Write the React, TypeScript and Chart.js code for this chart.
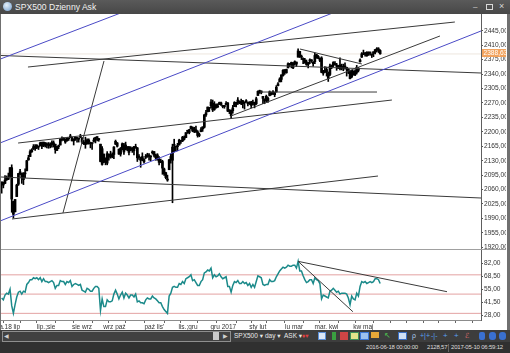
import React, { useEffect, useRef } from "react";
import { Chart, registerables } from "chart.js";

Chart.register(...registerables);

const FONT = "'Liberation Sans', 'DejaVu Sans', Arial, sans-serif";

// ---- Daily candles SPX500 (2016-06-16 .. 2017-05-10), bar index 0..226 ----
const opens = [
  2071,2078,2075,2084,2089,2092,2113,2031,2006,2043,
  2073,2099,2096,2084,2100,2106,2132,2140,2155,2158,
  2165,2162,2163,2166,2173,2166,2173,2168,2170,2166,
  2169,2173,2170,2155,2164,2168,2183,2182,2182,2178,
  2183,2186,2186,2178,2182,2185,2182,2187,2185,2173,
  2175,2171,2180,2174,2171,2177,2181,2186,2183,2170,
  2121,2146,2128,2124,2146,2144,2145,2145,2170,2173,
  2158,2146,2161,2168,2157,2164,2163,2155,2158,2164,
  2161,2161,2138,2131,2140,2133,2138,2140,2142,2139,
  2149,2152,2137,2144,2133,2129,2128,2110,2101,2083,
  2108,2132,2131,2167,2163,2165,2168,2177,2178,2187,
  2186,2201,2198,2207,2210,2201,2205,2200,2191,2200,
  2207,2211,2241,2249,2258,2263,2269,2254,2266,2260,
  2266,2270,2263,2261,2266,2270,2250,2252,2251,2261,
  2269,2271,2274,2269,2268,2271,2273,2270,2269,2272,
  2269,2268,2268,2288,2299,2299,2286,2275,2286,2276,
  2288,2295,2297,2290,2297,2312,2321,2327,2336,2350,
  2343,2355,2363,2368,2355,2366,2369,2381,2395,2381,
  2375,2374,2369,2363,2372,2372,2369,2370,2387,2383,
  2378,2379,2342,2346,2351,2329,2339,2356,2361,2365,
  2362,2354,2362,2354,2357,2358,2354,2352,2344,2333,
  2342,2347,2344,2354,2370,2381,2389,2389,2393,2388,
  2391,2386,2394,2392,2400,2401,2397,
];
const highs = [
  2079,2078,2094,2093,2100,2113,2120,2032,2036,2073,
  2099,2109,2100,2101,2110,2131,2143,2156,2159,2169,
  2169,2169,2165,2175,2175,2175,2174,2173,2174,2173,
  2178,2178,2170,2165,2168,2183,2188,2186,2183,2186,
  2185,2194,2187,2183,2188,2185,2185,2194,2186,2179,
  2187,2183,2183,2175,2174,2185,2187,2188,2184,2170,
  2164,2146,2137,2152,2146,2153,2149,2164,2180,2174,
  2158,2162,2173,2172,2175,2164,2165,2164,2162,2165,
  2170,2162,2145,2138,2149,2135,2145,2148,2147,2142,
  2154,2152,2146,2147,2140,2134,2131,2112,2102,2095,
  2133,2146,2170,2182,2165,2172,2182,2179,2189,2190,
  2198,2204,2206,2214,2212,2211,2214,2203,2197,2210,
  2212,2242,2252,2260,2259,2278,2277,2273,2268,2268,
  2272,2272,2264,2264,2273,2271,2254,2253,2264,2273,
  2271,2283,2275,2279,2276,2272,2278,2272,2273,2274,
  2277,2272,2284,2299,2301,2299,2286,2280,2289,2284,
  2299,2296,2300,2296,2312,2319,2331,2338,2351,2351,
  2352,2367,2366,2369,2368,2372,2369,2401,2395,2386,
  2379,2378,2374,2369,2377,2375,2370,2391,2388,2385,
  2379,2382,2349,2358,2357,2345,2364,2362,2370,2370,
  2366,2361,2379,2364,2364,2367,2356,2353,2349,2349,
  2348,2350,2361,2356,2377,2392,2398,2392,2394,2394,
  2393,2389,2394,2400,2404,2404,2399,
];
const lows = [
  2051,2064,2074,2082,2084,2089,2005,1991,2006,2043,
  2070,2096,2075,2072,2089,2105,2131,2140,2150,2157,
  2155,2159,2157,2166,2159,2164,2163,2161,2160,2161,
  2163,2163,2148,2154,2159,2168,2178,2179,2172,2177,
  2179,2186,2178,2168,2179,2175,2175,2186,2171,2169,
  2160,2170,2170,2161,2157,2175,2173,2178,2177,2127,
  2119,2125,2120,2120,2131,2136,2137,2135,2169,2163,
  2145,2141,2156,2145,2156,2154,2144,2154,2150,2144,
  2160,2128,2133,2114,2130,2124,2135,2138,2131,2130,
  2146,2139,2131,2131,2120,2125,2097,2094,2086,2080,
  2108,2124,2028,2151,2153,2154,2168,2172,2176,2180,
  2186,2196,2195,2207,2200,2198,2199,2187,2188,2200,
  2201,2209,2237,2248,2249,2258,2249,2252,2257,2259,
  2266,2264,2258,2257,2266,2249,2244,2233,2245,2261,
  2260,2266,2268,2266,2258,2255,2271,2263,2266,2258,
  2265,2258,2266,2288,2293,2292,2268,2268,2272,2271,
  2287,2289,2290,2285,2296,2311,2321,2321,2335,2339,
  2342,2355,2358,2355,2353,2362,2358,2381,2380,2375,
  2365,2366,2361,2355,2365,2368,2359,2365,2378,2377,
  2370,2343,2337,2343,2335,2322,2336,2353,2358,2362,
  2349,2353,2350,2350,2348,2352,2335,2341,2328,2331,
  2337,2336,2340,2345,2369,2380,2387,2383,2383,2385,
  2386,2380,2382,2389,2394,2392,2388,
];
const closes = [
  2078,2071,2083,2089,2085,2113,2037,2000,2036,2071,
  2099,2103,2089,2100,2098,2130,2137,2152,2152,2164,
  2162,2167,2164,2173,2165,2175,2168,2169,2167,2170,
  2174,2171,2157,2164,2164,2183,2181,2182,2175,2186,
  2184,2190,2178,2182,2187,2184,2183,2187,2175,2172,
  2169,2180,2176,2171,2171,2180,2186,2186,2181,2128,
  2159,2127,2126,2147,2139,2139,2140,2163,2177,2165,
  2146,2160,2171,2151,2168,2161,2150,2160,2161,2154,
  2164,2137,2139,2133,2133,2127,2140,2144,2141,2141,
  2151,2143,2139,2133,2126,2126,2112,2098,2089,2085,
  2132,2140,2163,2167,2164,2164,2180,2177,2187,2182,
  2198,2203,2205,2213,2202,2205,2199,2191,2192,2205,
  2212,2241,2246,2260,2257,2272,2253,2262,2258,2263,
  2271,2265,2261,2264,2269,2250,2249,2239,2258,2271,
  2269,2277,2269,2269,2275,2270,2275,2268,2272,2264,
  2271,2265,2280,2298,2297,2295,2281,2279,2280,2281,
  2297,2293,2293,2295,2308,2316,2328,2338,2349,2347,
  2351,2365,2363,2364,2367,2370,2364,2396,2382,2383,
  2375,2368,2363,2365,2373,2373,2365,2385,2381,2378,
  2373,2344,2348,2346,2344,2342,2359,2361,2368,2363,
  2359,2360,2353,2357,2356,2357,2354,2345,2329,2349,
  2342,2338,2356,2349,2374,2389,2387,2389,2384,2388,
  2391,2388,2390,2399,2399,2397,2389,
];
const rsi = [
  46,44,49,51,50,55,38,30,39,47,
  52,53,50,53,52,60,62,65,65,67,
  66,67,65,67,63,66,63,63,62,63,
  64,62,56,59,59,64,63,63,60,63,
  62,64,58,60,61,60,59,60,54,53,
  52,56,55,53,53,56,58,58,56,33,
  45,37,37,44,42,42,43,50,54,50,
  45,49,52,46,51,49,46,49,49,47,
  50,42,43,41,41,40,44,46,45,45,
  48,46,45,43,41,41,37,34,32,30,
  48,51,57,58,57,57,61,60,63,61,
  66,67,68,70,64,65,62,59,59,63,
  65,72,73,75,74,77,67,70,68,69,
  71,68,66,67,68,58,58,52,59,63,
  62,64,61,61,63,61,62,59,61,57,
  60,57,63,69,68,67,60,59,60,60,
  65,63,63,64,68,71,74,76,78,77,
  78,80,79,79,80,80,77,84,74,74,
  69,65,62,63,65,65,61,67,65,64,
  61,45,49,48,47,46,53,54,56,54,
  52,53,50,51,51,51,50,46,39,48,
  45,44,51,48,58,63,62,63,61,62,
  63,62,63,66,66,65,61,
];

const currentPrice = 2388.63;
const priceTicks = [1920,1955,1990,2025,2060,2095,2130,2165,2200,2235,2270,2305,2340,2375,2410,2445];
const rsiTicks = [28, 41.5, 55, 68.5, 82];
const rsiLevels = [70, 50, 30];

const xLabelIndex = [11, 32, 54, 74, 97, 117, 140, 158, 180, 201, 222];
const xLabelText = ["a.18 lip", "lip.;sie", "sie wrz", "wrz paź", "paź lis'", "lis.;gru", "gru 2017", "sty lut", "lu mar", "mar. kwi", "kw maj"];
const xMinorIndex = [1, 21, 43, 64, 85, 107, 128, 149, 169, 190, 211, 232, 242, 252, 261, 271, 281];

// trend lines: [barIndex1, value1, barIndex2, value2]
const blueLines = [
  [-0.4, 2376.9, 76.6, 2496.6],
  [-0.4, 2173.8, 202.0, 2494.9],
  [-0.4, 1984.7, 286.2, 2444.3],
];
const blackLines = [
  [-0.4, 2384.9, 286.2, 2342.5],
  [15.7, 2357.0, 270.6, 2466.1],
  [9.8, 2172.8, 233.0, 2277.0],
  [-0.4, 2090.4, 286.2, 2039.5],
  [6.2, 1988.6, 224.7, 2092.8],
  [36.6, 2003.2, 61.1, 2371.6],
  [136.9, 2238.3, 261.7, 2432.2],
  [154.2, 2296.4, 224.1, 2296.4],
  [178.1, 2400.6, 215.1, 2364.3],
];
const rsiLines = [
  [177, 84, 265.9, 52.5],
  [177, 84, 209.7, 31.7],
];

const statusTexts = ["2016-06-18 00:00:00", "2128,57", "2017-05-10 06:59:12"];

const X_MIN = -0.4;
const X_MAX = 286.2;

function fmt(v: number): string {
  return v.toFixed(2).replace(".", ",");
}

export default function App() {
  const ref = useRef<HTMLCanvasElement | null>(null);

  useEffect(() => {
    document.body.style.margin = "0";
    const canvas = ref.current;
    if (!canvas) return;
    const seg = (l: number[]) => [{ x: l[0], y: l[1] }, { x: l[2], y: l[3] }];
    const datasets: any[] = [];

    datasets.push({
      type: "line", data: [{ x: X_MIN, y: currentPrice }, { x: X_MAX, y: currentPrice }],
      borderColor: "#ede6df", borderWidth: 1, pointRadius: 0, yAxisID: "y", order: 10,
    });
    datasets.push({
      type: "bar", data: highs.map((h, i) => ({ x: i, y: [lows[i], h] })),
      backgroundColor: "#000", barThickness: 1, grouped: false, yAxisID: "y", order: 6,
    });
    datasets.push({
      type: "bar", data: opens.map((o, i) => ({ x: i, y: [o, closes[i]] })),
      backgroundColor: "#000", barThickness: 2, grouped: false, minBarLength: 1, yAxisID: "y", order: 5,
    });
    blueLines.forEach((l) =>
      datasets.push({ type: "line", data: seg(l), borderColor: "#4a4ac6", borderWidth: 1, pointRadius: 0, yAxisID: "y", order: 1 })
    );
    blackLines.forEach((l) =>
      datasets.push({ type: "line", data: seg(l), borderColor: "#3a3a3a", borderWidth: 1, pointRadius: 0, yAxisID: "y", order: 1 })
    );
    rsiLevels.forEach((lv) =>
      datasets.push({
        type: "line", data: [{ x: X_MIN, y: lv }, { x: X_MAX, y: lv }],
        borderColor: "#e3a2a2", borderWidth: 1, pointRadius: 0, yAxisID: "rsi", order: 8,
      })
    );
    datasets.push({
      type: "line", data: rsi.map((v, i) => ({ x: i, y: v })),
      borderColor: "#1b8a8a", borderWidth: 1.5, pointRadius: 0, tension: 0, yAxisID: "rsi", order: 3,
    });
    rsiLines.forEach((l) =>
      datasets.push({ type: "line", data: seg(l), borderColor: "#3a3a3a", borderWidth: 1, pointRadius: 0, yAxisID: "rsi", order: 1 })
    );

    const labelMap = new Map<number, string>();
    xLabelIndex.forEach((v, i) => labelMap.set(v, xLabelText[i]));
    const xTicks = [...xLabelIndex, ...xMinorIndex].sort((a, b) => a - b);

    const overlay = {
      id: "overlay",
      afterDraw(chart: any) {
        const ctx = chart.ctx;
        const py = chart.scales.y;
        ctx.save();
        const sy = Math.round(py.bottom) - 0.5;
        ctx.strokeStyle = "#a0a0a0";
        ctx.lineWidth = 1;
        ctx.beginPath();
        ctx.moveTo(0, sy);
        ctx.lineTo(chart.width, sy);
        ctx.stroke();
        const cy = py.getPixelForValue(currentPrice);
        ctx.fillStyle = "#f2a35e";
        ctx.fillRect(py.left + 1, Math.round(cy - 4.5), chart.width - py.left - 1, 8);
        ctx.fillStyle = "#ffffff";
        ctx.font = `6.6px ${FONT}`;
        ctx.textBaseline = "middle";
        ctx.textAlign = "left";
        ctx.fillText(fmt(currentPrice), py.left + 2.5, Math.round(cy - 4.5) + 4);
        ctx.restore();
      },
    };

    const yCommon = {
      type: "linear",
      position: "right",
      stack: "panes",
      grid: { drawOnChartArea: false, drawTicks: true, tickLength: 2, color: "#555" },
      border: { display: true, color: "#5e5e5e" },
    };

    const chart = new Chart(canvas, {
      type: "bar",
      data: { datasets },
      plugins: [overlay],
      options: {
        animation: false,
        responsive: false,
        devicePixelRatio: 1,
        events: [],
        layout: { padding: 0 },
        plugins: { legend: { display: false }, tooltip: { enabled: false } },
        scales: {
          x: {
            type: "linear",
            min: X_MIN,
            max: X_MAX,
            offset: false,
            position: "bottom",
            afterBuildTicks: (s: any) => {
              s.ticks = xTicks.map((v) => ({ value: v }));
            },
            afterFit: (s: any) => {
              s.height = 10;
              s.paddingLeft = 0;
              s.paddingRight = 0;
            },
            ticks: {
              autoSkip: false, maxRotation: 0, minRotation: 0, align: "end", padding: 0,
              color: "#333", font: { family: FONT, size: 6.5 },
              callback: (v: any) => labelMap.get(Number(v)) ?? "",
            },
            grid: { drawOnChartArea: false, drawTicks: true, tickLength: 3, color: "#666", offset: false },
            border: { display: true, color: "#8c8c8c" },
          },
          y: {
            ...yCommon,
            stackWeight: 236,
            min: 1913.5,
            max: 2485.5,
            afterBuildTicks: (s: any) => {
              s.ticks = priceTicks.map((v) => ({ value: v }));
            },
            afterFit: (s: any) => {
              s.width = 25;
              s.paddingTop = 0;
              s.paddingBottom = 0;
            },
            ticks: { autoSkip: false, padding: 1, color: "#333", font: { family: FONT, size: 6.6 }, callback: (v: any) => fmt(Number(v)) },
          },
          rsi: {
            ...yCommon,
            stackWeight: 70,
            min: 23.1,
            max: 95.8,
            afterBuildTicks: (s: any) => {
              s.ticks = rsiTicks.map((v) => ({ value: v }));
            },
            afterFit: (s: any) => {
              s.width = 25;
              s.paddingTop = 0;
              s.paddingBottom = 0;
            },
            ticks: { autoSkip: false, padding: 1, color: "#333", font: { family: FONT, size: 6.6 }, callback: (v: any) => fmt(Number(v)) },
          },
        },
      } as any,
    } as any);
    return () => chart.destroy();
  }, []);

  const icon = (left: number, style: React.CSSProperties, content?: string) => (
    <div style={{ position: "absolute", left, top: 2, width: 8, height: 8, ...style }}>{content}</div>
  );
  const txt: React.CSSProperties = { position: "absolute", top: 0, fontSize: 6.5, lineHeight: "12px", color: "#e8e8e8", whiteSpace: "nowrap" };
  const stat: React.CSSProperties = { position: "absolute", top: 0, fontSize: 6, letterSpacing: -0.2, lineHeight: "11px", color: "#dcdcdc", whiteSpace: "nowrap" };

  return (
    <div style={{ position: "fixed", left: 0, top: 0, width: 510, height: 353, background: "#707070", overflow: "hidden", fontFamily: FONT }}>
      {/* title bar */}
      <div style={{ position: "absolute", left: 0, top: 0, width: 510, height: 14, background: "linear-gradient(#5a5a5a, #474747)" }}>
        <div style={{ position: "absolute", left: 3, top: 2, width: 9, height: 9, borderRadius: "50%", background: "radial-gradient(circle at 40% 35%, #e6f0fa, #6f9ccc)" }} />
        <div style={{ position: "absolute", left: 15, top: 0, fontSize: 8.6, lineHeight: "14px", color: "#f2f2f2", whiteSpace: "nowrap" }}>SPX500 Dzienny Ask</div>
        <div style={{ position: "absolute", left: 473, top: 0, fontSize: 8, lineHeight: "13px", color: "#d8d8d8" }}>–</div>
        <div style={{ position: "absolute", left: 486, top: 4, width: 5, height: 4, border: "1px solid #d8d8d8" }} />
        <div style={{ position: "absolute", left: 499, top: 0, fontSize: 9, lineHeight: "13px", color: "#d8d8d8" }}>×</div>
      </div>
      {/* chart client area */}
      <div style={{ position: "absolute", left: 1, top: 14, width: 506, height: 316, background: "#ffffff" }}>
        <canvas ref={ref} width={505} height={316} style={{ display: "block", width: 505, height: 316 }} />
      </div>
      {/* toolbar */}
      <div style={{ position: "absolute", left: 0, top: 330, width: 510, height: 12, background: "#3d3d3d" }}>
        <div style={{ position: "absolute", left: 2, top: 1, width: 227, height: 9, border: "1px solid #8e8e8e", background: "#414141" }} />
        <div style={{ ...txt, left: 4, fontSize: 6, color: "#cfcfcf" }}>◀</div>
        <div style={{ position: "absolute", left: 213, top: 2, width: 6, height: 8, background: "#c9c9c9" }} />
        <div style={{ ...txt, left: 223, fontSize: 6, color: "#cfcfcf" }}>▶</div>
        <div style={{ ...txt, left: 234 }}>SPX500 ▾</div>
        <div style={{ ...txt, left: 265 }}>day ▾</div>
        <div style={{ ...txt, left: 284 }}>ASK ▾</div>
        <div style={{ ...txt, left: 302, color: "#e04040" }}>♦▾</div>
        {icon(318, { border: "1px solid #5b8fd8", background: "#dbe7f7", width: 6, height: 6 })}
        {icon(332, { background: "#3aa040", width: 4 })}
        {icon(340, { background: "#d04545" })}
        {icon(350, { border: "1px solid #3f8f5a", background: "#e3e38a", width: 7, height: 6 })}
        {icon(360, { border: "1px solid #3c78d8", background: "#9cc0ee", width: 7, height: 6 })}
        {icon(371, { background: "#e8a838", height: 6 })}
        <div style={{ ...txt, left: 384, fontSize: 8, color: "#4cc050" }}>↖</div>
        {icon(398, { border: "1px solid #3a6fc4", background: "#cfe0f6", width: 7, height: 6 })}
        <div style={{ ...txt, left: 412, fontSize: 7, color: "#a8c8ea" }}>ρ</div>
        <div style={{ ...txt, left: 420, fontSize: 7, color: "#5aa0f0" }}>+|+</div>
        <div style={{ ...txt, left: 431, fontSize: 7, color: "#5aa0f0" }}>-|-</div>
        <div style={{ ...txt, left: 443, fontSize: 8, color: "#5aa0f0" }}>+</div>
        <div style={{ ...txt, left: 454, fontSize: 8, color: "#5aa0f0" }}>+</div>
        <div style={{ ...txt, left: 465, fontSize: 7, color: "#e07070" }}>ℰ</div>
        {icon(479, { background: "#3a70d0", borderRadius: 2, width: 6 })}
        {icon(489, { background: "#3a70d0", borderRadius: 3, width: 7 })}
        {icon(499, { background: "#3a70d0", borderRadius: 3, width: 7 })}
      </div>
      {/* status bar */}
      <div style={{ position: "absolute", left: 0, top: 342, width: 510, height: 11, background: "#303030" }}>
        <div style={{ ...stat, left: 366 }}>{statusTexts[0]}</div>
        <div style={{ ...stat, left: 427 }}>{statusTexts[1]}</div>
        <div style={{ position: "absolute", left: 448, top: 2, width: 1, height: 8, background: "#666" }} />
        <div style={{ ...stat, left: 451 }}>{statusTexts[2]}</div>
      </div>
    </div>
  );
}
